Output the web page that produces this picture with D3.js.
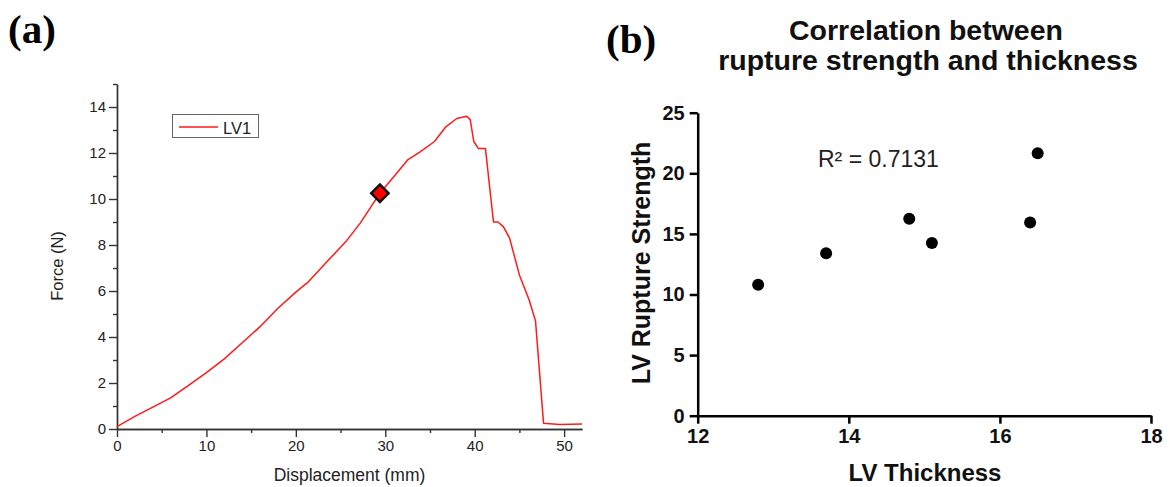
<!DOCTYPE html>
<html>
<head>
<meta charset="utf-8">
<script src="https://cdn.jsdelivr.net/npm/d3@7"></script>
<style>
  body { margin: 0; background: #fff; }
  text { font-family: Arial, "Liberation Sans", sans-serif; }
  .axA path, .axA line { stroke: #333; stroke-width: 1.4; }
  .axA text { font-size: 15px; fill: #222; }
  .axB path, .axB line { stroke: #000; stroke-width: 2.5; }
  .axB text { font-size: 20px; font-weight: bold; fill: #111; }
</style>
</head>
<body>
<svg id="fig"></svg>
<script>
// size of the whole figure
var width = 1170,
    height = 487;

// (a) force vs displacement
var displacement = [0, 2, 4, 6, 8, 10, 12, 14, 16, 18, 20, 21.4, 22.7, 24.5, 25.7, 27.2, 28.3, 29.4,
  30.9, 32.5, 33.9, 35.5, 36.8, 38.0, 39.1, 39.5, 39.9, 40.4, 41.2, 42.1, 42.6, 43.2, 43.9,
  45.0, 46.1, 46.8, 47.7, 49.5, 52];
var force = [0.1, 0.55, 0.95, 1.35, 1.9, 2.45, 3.05, 3.75, 4.45, 5.25, 5.95, 6.4, 6.95, 7.7, 8.2, 8.95, 9.6, 10.25,
  10.95, 11.7, 12.05, 12.5, 13.15, 13.5, 13.6, 13.45, 12.5, 12.2, 12.2, 9.0, 9.0, 8.8, 8.3,
  6.7, 5.6, 4.7, 0.25, 0.2, 0.22];
var markerPoint = [29.4, 10.25];
var forceTicks = [0, 2, 4, 6, 8, 10, 12, 14];
var dispTicks = [0, 10, 20, 30, 40, 50];

// (b) thickness vs rupture strength
var thickness = [12.8, 13.7, 14.8, 15.1, 16.4, 16.5];
var strength = [10.8, 13.4, 16.25, 14.25, 15.95, 21.65];
var thickTicks = [12, 14, 16, 18];
var strengthTicks = [0, 5, 10, 15, 20, 25];

var svg = d3.select("#fig")
    .attr("width", width)
    .attr("height", height);

// ---------- panel (a) ----------
var xA = d3.scaleLinear().domain([0, 52]).range([117, 582]);
var yA = d3.scaleLinear().domain([0, 15]).range([429, 84]);

var gA = svg.append("g");

// minor ticks first
gA.append("g")
    .attr("class", "axA")
    .attr("transform", "translate(0,429)")
    .call(d3.axisBottom(xA).tickValues([5, 15, 25, 35, 45]).tickSize(4).tickSizeOuter(0).tickFormat(""));
gA.append("g")
    .attr("class", "axA")
    .attr("transform", "translate(117,0)")
    .call(d3.axisLeft(yA).tickValues([1, 3, 5, 7, 9, 11, 13, 15]).tickSize(4).tickSizeOuter(0).tickFormat(""));

gA.append("g")
    .attr("class", "axA")
    .attr("transform", "translate(0,429)")
    .call(d3.axisBottom(xA).tickValues(dispTicks).tickSize(8).tickSizeOuter(0).tickPadding(3));
gA.append("g")
    .attr("class", "axA")
    .attr("transform", "translate(117,0)")
    .call(d3.axisLeft(yA).tickValues(forceTicks).tickSize(8).tickSizeOuter(0).tickPadding(3));

gA.append("text")
    .attr("x", (xA.range()[0] + xA.range()[1]) / 2)
    .attr("y", 481)
    .attr("text-anchor", "middle")
    .style("font-size", "17.5px")
    .style("fill", "#222")
    .text("Displacement (mm)");

gA.append("text")
    .attr("transform", "translate(63,266) rotate(-90)")
    .attr("text-anchor", "middle")
    .style("font-size", "16.5px")
    .style("fill", "#222")
    .text("Force (N)");

var line = d3.line()
    .x(function(d, i) { return xA(displacement[i]); })
    .y(function(d) { return yA(d); });

gA.append("path")
    .datum(force)
    .attr("d", line)
    .attr("fill", "none")
    .attr("stroke", "#ff1a1a")
    .attr("stroke-width", 1.5)
    .attr("stroke-linejoin", "round");

gA.append("path")
    .attr("d", d3.symbol().type(d3.symbolSquare).size(150))
    .attr("transform", "translate(" + xA(markerPoint[0]) + "," + yA(markerPoint[1]) + ") rotate(45)")
    .attr("fill", "#ff0000")
    .attr("stroke", "#111")
    .attr("stroke-width", 2.5);

// legend
var leg = gA.append("g");
leg.append("rect")
    .attr("x", 172.5).attr("y", 114.5)
    .attr("width", 86).attr("height", 23)
    .attr("fill", "#fff")
    .attr("stroke", "#666")
    .attr("stroke-width", 1);
leg.append("line")
    .attr("x1", 179).attr("x2", 218)
    .attr("y1", 127).attr("y2", 127)
    .attr("stroke", "#ff1a1a")
    .attr("stroke-width", 1.5);
leg.append("text")
    .attr("x", 223).attr("y", 133.5)
    .style("font-size", "16.5px")
    .style("fill", "#222")
    .text("LV1");

svg.append("text")
    .attr("x", 8).attr("y", 43)
    .style("font-family", "'Liberation Serif', 'DejaVu Serif', serif")
    .style("font-weight", "bold")
    .style("font-size", "41px")
    .text("(a)");

// ---------- panel (b) ----------
var xB = d3.scaleLinear().domain([12, 18]).range([697.7, 1151]);
var yB = d3.scaleLinear().domain([0, 25]).range([415.7, 112.7]);

var gB = svg.append("g");

gB.append("g")
    .attr("class", "axB")
    .attr("transform", "translate(0,415.7)")
    .call(d3.axisBottom(xB).tickValues(thickTicks).tickSize(8).tickSizeOuter(0).tickPadding(5).tickFormat(d3.format("d")));
gB.append("g")
    .attr("class", "axB")
    .attr("transform", "translate(697.7,0)")
    .call(d3.axisLeft(yB).tickValues(strengthTicks).tickSize(8).tickSizeOuter(0).tickPadding(5).tickFormat(d3.format("d")));

gB.selectAll("circle")
    .data(thickness)
  .enter().append("circle")
    .attr("cx", function(d) { return xB(d); })
    .attr("cy", function(d, i) { return yB(strength[i]); })
    .attr("r", 6)
    .attr("fill", "#000");

gB.append("text")
    .attr("x", 818).attr("y", 167)
    .style("font-size", "23px")
    .style("fill", "#222")
    .text("R² = 0.7131");

gB.append("text")
    .attr("x", 925).attr("y", 481)
    .attr("text-anchor", "middle")
    .style("font-size", "24px")
    .style("font-weight", "bold")
    .style("fill", "#111")
    .text("LV Thickness");

gB.append("text")
    .attr("transform", "translate(650,263) rotate(-90)")
    .attr("text-anchor", "middle")
    .style("font-size", "25px")
    .style("font-weight", "bold")
    .style("fill", "#111")
    .text("LV Rupture Strength");

var title = gB.append("text")
    .attr("text-anchor", "middle")
    .style("font-size", "28.5px")
    .style("font-weight", "bold")
    .style("fill", "#111");
title.append("tspan").attr("x", 926).attr("y", 40).text("Correlation between");
title.append("tspan").attr("x", 928).attr("y", 70).text("rupture strength and thickness");

svg.append("text")
    .attr("x", 606).attr("y", 53)
    .style("font-family", "'Liberation Serif', 'DejaVu Serif', serif")
    .style("font-weight", "bold")
    .style("font-size", "41px")
    .text("(b)");
</script>
</body>
</html>
